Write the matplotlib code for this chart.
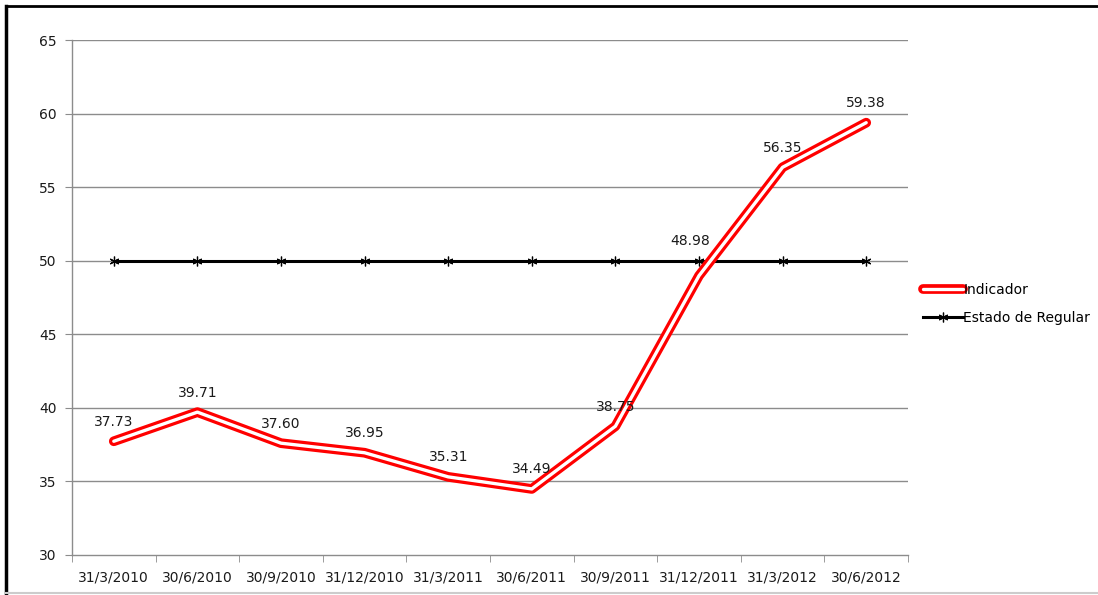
import matplotlib
matplotlib.use("Agg")
import matplotlib.pyplot as plt
from matplotlib.lines import Line2D
from matplotlib.legend_handler import HandlerTuple
import numpy as np

categories = ["31/3/2010", "30/6/2010", "30/9/2010", "31/12/2010", "31/3/2011",
              "30/6/2011", "30/9/2011", "31/12/2011", "31/3/2012", "30/6/2012"]
indicador = [37.73, 39.71, 37.60, 36.95, 35.31, 34.49, 38.75, 48.98, 56.35, 59.38]
estado_regular = [50, 50, 50, 50, 50, 50, 50, 50, 50, 50]
yticks = [30, 35, 40, 45, 50, 55, 60, 65]

W, H = 1098, 595
fig = plt.figure(figsize=(W / 100, H / 100), dpi=100)
plt.rcParams['font.family'] = ['DejaVu Sans']
FS = 10
TXT = "#1a1a1a"

ax = fig.add_axes([72 / W, 1 - 555 / H, (908 - 72) / W, (555 - 40) / H])
x = np.arange(len(categories))

grid_c = "#8c8c8c"
for yv in yticks[1:]:
    ax.axhline(yv, color=grid_c, lw=1.0, zorder=1)

RED_W, WHITE_W = 7.0, 2.4
MK = dict(marker=(6, 2, 0), ms=7, mew=0.9, mec="black")

# Estado de Regular
ax.plot(x, estado_regular, color="black", lw=2.2, zorder=3, **MK)

# Indicador: double red line with white core
ax.plot(x, indicador, color="#ff0000", lw=RED_W, solid_joinstyle="round",
        solid_capstyle="round", zorder=4)
ax.plot(x, indicador, color="white", lw=WHITE_W, solid_joinstyle="round",
        solid_capstyle="round", zorder=5)

# label placement (the 48.98 label sits above the reference line)
label_offsets = {7: (-6, 20)}
for i, (xi, v) in enumerate(zip(x, indicador)):
    off = label_offsets.get(i, (0, 9))
    ax.annotate(f"{v:.2f}", (xi, v), xytext=off, textcoords="offset points",
                ha="center", va="bottom", fontsize=FS, color=TXT, zorder=6)

ax.set_xlim(-0.5, len(categories) - 0.5)
ax.set_ylim(30, 65)
ax.set_yticks(yticks)
ax.set_yticklabels([str(v) for v in yticks], fontsize=FS, color=TXT)
ax.set_xticks(x)
ax.set_xticklabels(categories, fontsize=FS, color=TXT)
ax.tick_params(axis="x", which="major", length=0, pad=11)
ax.set_xticks(np.arange(-0.5, len(categories), 1.0), minor=True)
ax.tick_params(axis="x", which="minor", length=5, color=grid_c, direction="out")
ax.tick_params(axis="y", length=5, color=grid_c, pad=6)

for s in ["top", "right"]:
    ax.spines[s].set_visible(False)
for s in ["left", "bottom"]:
    ax.spines[s].set_color(grid_c)
    ax.spines[s].set_linewidth(1.0)

# Legend
h1 = (Line2D([0], [0], color="#ff0000", lw=RED_W, solid_capstyle="round"),
      Line2D([0], [0], color="white", lw=WHITE_W, solid_capstyle="round"))
h2 = Line2D([0], [0], color="black", lw=2.2, **MK)
fig.legend([h1, h2], ["Indicador", "Estado de Regular"],
           handler_map={tuple: HandlerTuple(ndivide=1, pad=0)},
           loc="upper left", bbox_to_anchor=(910 / W, 1 - 270 / H),
           frameon=False, fontsize=FS, handlelength=2.9, handletextpad=0.05,
           labelspacing=1.05)

# Frame of the screenshot
fig.add_artist(Line2D([6 / W, 6 / W], [0, 1 - 6 / H], color="black", lw=2.5,
                      transform=fig.transFigure))
fig.add_artist(Line2D([6 / W, 1], [1 - 6 / H, 1 - 6 / H], color="black", lw=2.0,
                      transform=fig.transFigure))
fig.add_artist(Line2D([6 / W, 1], [1 - 593 / H, 1 - 593 / H], color="#cccccc",
                      lw=1.5, transform=fig.transFigure))

fig.savefig("out.png", dpi=100)
